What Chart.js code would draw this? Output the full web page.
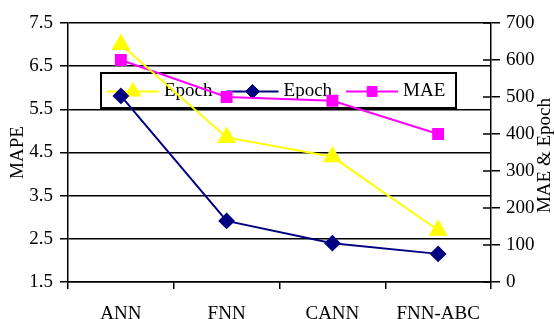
<!DOCTYPE html>
<html>
<head>
<meta charset="utf-8">
<script src="https://cdn.jsdelivr.net/npm/chart.js@4/dist/chart.umd.min.js"></script>
<style>
html, body { margin: 0; padding: 0; background: #fff; }
#wrap { width: 554px; height: 319px; }
</style>
</head>
<body>
<div id="wrap"><canvas id="errorChart" width="554" height="319"></canvas></div>
<script>
const categories = ["ANN", "FNN", "CANN", "FNN-ABC"];

// yellow series, read on the left (MAPE) axis
const mapeValues = [7.0, 4.85, 4.4, 2.7];
// navy series, read on the right axis
const epochValues = [503, 165, 105, 76];
// magenta series, right axis
const maeValues = [600, 500, 490, 400];

const seriesLabels = ["Epoch", "Epoch", "MAE"];

const leftTitle = "MAPE";
const rightTitle = "MAE & Epoch";

const FONT = "'Liberation Serif', 'Times New Roman', serif";

function drawMarker(ctx, ds, x, y){
    const opts = {
        pointStyle: ds.pointStyle,
        radius: ds.pointRadius,
        rotation: 0,
        borderWidth: 1
    };
    ctx.save();
    ctx.fillStyle = ds.pointBackgroundColor;
    ctx.strokeStyle = ds.pointBorderColor;
    ctx.lineWidth = 1;
    Chart.helpers.drawPoint(ctx, opts, x, y);
    ctx.restore();
}

// legend box sits inside the plot, under the lines
const boxLegend = {
    id: "boxLegend",
    beforeDatasetsDraw(chart){
        const ctx = chart.ctx;
        const area = chart.chartArea;
        const left = area.left + 33;
        const top = area.top + 50;
        const width = 355;
        const height = 35;
        const midY = top + height / 2 + 1;

        ctx.save();
        ctx.fillStyle = "#fff";
        ctx.fillRect(left, top, width, height);
        ctx.strokeStyle = "#000";
        ctx.lineWidth = 2;
        ctx.strokeRect(left, top, width, height);

        ctx.font = "19px " + FONT;
        ctx.textBaseline = "middle";
        ctx.fillStyle = "#000";

        let x = left + 6;
        chart.data.datasets.forEach(ds => {
            ctx.strokeStyle = ds.borderColor;
            ctx.lineWidth = 2;
            ctx.beginPath();
            ctx.moveTo(x, midY);
            ctx.lineTo(x + 52, midY);
            ctx.stroke();
            drawMarker(ctx, ds, x + 26, midY);
            ctx.fillStyle = "#000";
            ctx.fillText(ds.label, x + 57, midY);
            x += 57 + ctx.measureText(ds.label).width + 14;
        });
        ctx.restore();
    }
};

// right axis: inward half of the crossing ticks + title reading bottom to top
const rightAxisExtras = {
    id: "rightAxisExtras",
    afterDraw(chart){
        const ctx = chart.ctx;
        const area = chart.chartArea;
        const scale = chart.scales.y1;

        ctx.save();
        ctx.strokeStyle = "#000";
        ctx.lineWidth = 1.5;
        scale.ticks.forEach(t => {
            const y = scale.getPixelForValue(t.value);
            ctx.beginPath();
            ctx.moveTo(area.right - 8, y);
            ctx.lineTo(area.right, y);
            ctx.stroke();
        });

        ctx.translate(545, (area.top + area.bottom) / 2 + 3);
        ctx.rotate(-Math.PI / 2);
        ctx.font = "19px " + FONT;
        ctx.fillStyle = "#000";
        ctx.textAlign = "center";
        ctx.textBaseline = "middle";
        ctx.fillText(rightTitle, 0, 0);
        ctx.restore();
    }
};

const tickFont = { family: FONT, size: 19 };

new Chart(
    document.getElementById("errorChart"),
    {
        type: "line",
        data: {
            labels: categories,
            datasets: [
                {
                    label: seriesLabels[0],
                    data: mapeValues,
                    yAxisID: "y",
                    borderColor: "#FFFF00",
                    pointBackgroundColor: "#FFFF00",
                    pointBorderColor: "#FFFF00",
                    pointStyle: "triangle",
                    pointRadius: 9,
                    borderWidth: 2,
                    tension: 0
                },
                {
                    label: seriesLabels[1],
                    data: epochValues,
                    yAxisID: "y1",
                    borderColor: "#000080",
                    pointBackgroundColor: "#000080",
                    pointBorderColor: "#000080",
                    pointStyle: "rectRot",
                    pointRadius: 7,
                    borderWidth: 2,
                    tension: 0
                },
                {
                    label: seriesLabels[2],
                    data: maeValues,
                    yAxisID: "y1",
                    borderColor: "#FF00FF",
                    pointBackgroundColor: "#FF00FF",
                    pointBorderColor: "#FF00FF",
                    pointStyle: "rect",
                    pointRadius: 7,
                    borderWidth: 2,
                    tension: 0
                }
            ]
        },
        options: {
            responsive: false,
            animation: false,
            devicePixelRatio: 1,
            layout: { padding: { top: 23, right: 0, left: 0, bottom: 0 } },
            plugins: {
                legend: { display: false },
                tooltip: { enabled: false }
            },
            scales: {
                x: {
                    offset: true,
                    grid: {
                        offset: true,
                        drawOnChartArea: false,
                        color: "#000",
                        lineWidth: 1.5,
                        tickLength: 7
                    },
                    border: { color: "#000", width: 1.5 },
                    ticks: {
                        color: "#000",
                        font: tickFont,
                        padding: 14,
                        maxRotation: 0,
                        autoSkip: false
                    },
                    afterFit(scale){ scale.height = 37; }
                },
                y: {
                    position: "left",
                    min: 1.5,
                    max: 7.5,
                    ticks: {
                        stepSize: 1,
                        color: "#000",
                        font: tickFont,
                        padding: 7,
                        callback: v => Number(v).toFixed(1)
                    },
                    grid: {
                        color: "#000",
                        lineWidth: 1.5,
                        tickLength: 8
                    },
                    border: { color: "#000", width: 1.5 },
                    title: {
                        display: true,
                        text: leftTitle,
                        color: "#000",
                        font: tickFont,
                        padding: { top: 7, bottom: 0 }
                    },
                    afterFit(scale){ scale.width = 68; }
                },
                y1: {
                    position: "right",
                    min: 0,
                    max: 700,
                    ticks: {
                        stepSize: 100,
                        color: "#000",
                        font: tickFont,
                        padding: 6
                    },
                    grid: {
                        drawOnChartArea: false,
                        color: "#000",
                        lineWidth: 1.5,
                        tickLength: 9
                    },
                    border: { color: "#000", width: 1.5 },
                    afterFit(scale){ scale.width = 63; }
                }
            }
        },
        plugins: [boxLegend, rightAxisExtras]
    }
);
</script>
</body>
</html>
